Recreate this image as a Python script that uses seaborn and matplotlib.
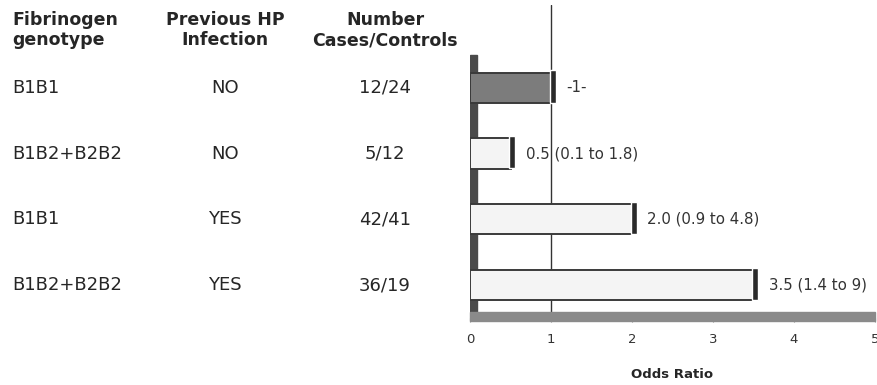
import numpy as np
import pandas as pd
import matplotlib
matplotlib.use("Agg")
import matplotlib.pyplot as plt
import matplotlib.transforms as mtransforms
from matplotlib.patches import Rectangle
import seaborn as sns

# --- Data ---
genotypes = ["B1B1", "B1B2+B2B2", "B1B1", "B1B2+B2B2"]
hp_infection = ["NO", "NO", "YES", "YES"]
cases_controls = ["12/24", "5/12", "42/41", "36/19"]
odds_ratio = [1.0, 0.5, 2.0, 3.5]
ci_labels = ["-1-", "0.5 (0.1 to 1.8)", "2.0 (0.9 to 4.8)", "3.5 (1.4 to 9)"]
x_ticks = [0, 1, 2, 3, 4, 5]

bar_colors = ["#7c7c7c", "#f4f4f4", "#f4f4f4", "#f4f4f4"]
TEXT = "#262626"

sns.set_style("white")
plt.rcParams['font.family'] = ['DejaVu Sans']

df = pd.DataFrame({
    'row': [f"{g} / {h}" for g, h in zip(genotypes, hp_infection)],
    'odds': odds_ratio,
})

fig = plt.figure(figsize=(8.77, 3.85), dpi=100)
ax = fig.add_axes([470 / 877, 1 - 318 / 385, 405 / 877, 313 / 385])

sns.barplot(data=df, x='odds', y='row', hue='row', palette=bar_colors,
            orient='h', width=0.46, edgecolor='#3a3a3a', linewidth=1.4,
            legend=False, ax=ax, zorder=3)

# 3D-ish depth strip at the end of each bar
ypos = np.arange(len(odds_ratio))
ax.barh(ypos - 0.02, [0.075] * len(odds_ratio),
        left=[v - 0.015 for v in odds_ratio], height=0.49,
        color='#2a2a2a', zorder=4)

ax.set_xlim(0, 5)
ax.set_ylim(3.5, -1.26)

# reference gridline at OR = 1
ax.axvline(1, color='#333333', lw=1.0, zorder=1)

# left wall and floor
ax.add_patch(Rectangle((0, 0), 0.018, 0.84, transform=ax.transAxes,
                       color='#4a4a4a', zorder=2))
ax.add_patch(Rectangle((0, -0.01), 1, 0.028, transform=ax.transAxes,
                       color='#8a8a8a', zorder=2, clip_on=False))

for s in ax.spines.values():
    s.set_visible(False)
ax.set_yticks([])
ax.set_ylabel('')
ax.set_xticks(x_ticks)
ax.set_xticklabels([str(t) for t in x_ticks], fontsize=9.5, color='#333333')
ax.tick_params(axis='x', length=3, width=0.8, color='#888888', pad=8, bottom=True)
ax.set_xlabel('Odds Ratio', fontsize=9.5, fontweight='bold', color=TEXT, labelpad=16)

for y, v, lab in zip(ypos, odds_ratio, ci_labels):
    ax.annotate(lab, (v, y), xytext=(11, 0), textcoords='offset points',
                va='center', ha='left', fontsize=10.8, color='#333333')

# table on the left
trans = mtransforms.blended_transform_factory(fig.transFigure, ax.transData)
col_x = [12 / 877, 225 / 877, 385 / 877]
for y, g, h, n in zip(ypos, genotypes, hp_infection, cases_controls):
    fig.text(col_x[0], y, g, transform=trans, ha='left', va='center', fontsize=13, color=TEXT)
    fig.text(col_x[1], y, h, transform=trans, ha='center', va='center', fontsize=13, color=TEXT)
    fig.text(col_x[2], y, n, transform=trans, ha='center', va='center', fontsize=13, color=TEXT)

head_y = 1 - 30 / 385
fig.text(col_x[0], head_y, "Fibrinogen\ngenotype", ha='left', va='center',
         fontsize=12.5, fontweight='bold', color=TEXT, linespacing=1.15)
fig.text(col_x[1], head_y, "Previous HP\nInfection", ha='center', va='center',
         fontsize=12.5, fontweight='bold', color=TEXT, linespacing=1.15)
fig.text(col_x[2], head_y, "Number\nCases/Controls", ha='center', va='center',
         fontsize=12.5, fontweight='bold', color=TEXT, linespacing=1.15)

fig.savefig('out.png', dpi=100)
